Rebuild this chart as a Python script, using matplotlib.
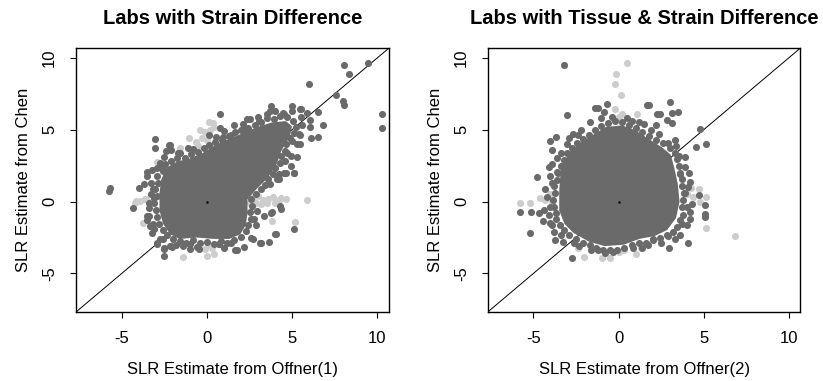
import numpy as np
import matplotlib
matplotlib.use("Agg")
import matplotlib.pyplot as plt
from matplotlib.patches import Polygon

plt.rcParams['font.family'] = ['Liberation Sans', 'DejaVu Sans']
plt.rcParams['axes.unicode_minus'] = False

DARK = '#6a6a6a'
LIGHT = '#cdcdcd'

titles = ["Labs with Strain Difference", "Labs with Tissue & Strain Difference"]
xlabels = ["SLR Estimate from Offner(1)", "SLR Estimate from Offner(2)"]
ylabel = "SLR Estimate from Chen"
ticks = [-5, 0, 5, 10]
lims = (-7.68, 10.68)

# solid centre of each cloud (outline), points overlap there
left_core = [(-2.6, 1.5), (-2.3, 2.3), (-1.7, 2.7), (-1.0, 2.9), (-0.2, 3.3), (0.6, 3.9),
             (1.4, 4.3), (2.2, 4.7), (3.0, 5.1), (3.8, 5.4), (4.6, 5.5), (4.9, 5.2),
             (4.8, 4.6), (4.3, 3.6), (4.0, 2.6), (3.5, 1.7), (2.9, 1.0), (2.3, 0.2),
             (2.3, -0.8), (2.2, -1.6), (1.9, -2.2), (1.3, -2.5), (0.4, -2.5), (-0.6, -2.4),
             (-1.6, -2.5), (-2.1, -2.2), (-2.5, -1.5), (-2.7, -0.6), (-2.7, 0.6)]
right_core = [(-3.3, 2.3), (-2.8, 3.4), (-2.2, 4.0), (-1.4, 4.6), (-0.7, 5.1), (0.2, 5.2),
              (0.9, 4.9), (1.7, 4.3), (2.5, 3.7), (3.0, 3.2), (3.2, 2.3), (3.4, 1.2),
              (3.5, 0.0), (3.3, -1.1), (2.8, -1.9), (2.1, -2.3), (1.2, -2.5), (0.3, -2.9),
              (-0.8, -3.0), (-1.7, -2.7), (-2.6, -2.1), (-3.1, -1.5), (-3.4, -0.6), (-3.4, 0.8)]

# points along the edge of the dense centre
left_edge = [(-3.0, -0.6), (-3.1, -0.1), (-2.95, 0.4), (-3.05, 0.9), (-2.85, 1.3), (-2.9, 1.8),
             (-2.6, 2.2), (-2.45, 2.6), (-2.1, 2.85), (-1.75, 3.05), (-1.3, 3.0), (-0.95, 3.3),
             (-0.55, 3.45), (-0.2, 3.7), (0.15, 3.95), (0.5, 4.15), (0.9, 4.3), (1.3, 4.55),
             (1.65, 4.85), (2.0, 4.95), (2.4, 5.1), (2.8, 5.35), (3.2, 5.5), (3.55, 5.8),
             (3.95, 5.75), (4.3, 5.95), (4.7, 5.85), (5.05, 5.6), (5.25, 5.2), (5.1, 4.8),
             (4.85, 4.45), (4.65, 4.0), (4.6, 3.55), (4.35, 3.15), (4.3, 2.7), (4.0, 2.35),
             (3.85, 1.9), (3.6, 1.55), (3.4, 1.15), (3.15, 0.85), (2.85, 0.5), (2.6, 0.15),
             (2.65, -0.3), (2.5, -0.75), (2.6, -1.2), (2.4, -1.6), (2.3, -2.05), (2.0, -2.45),
             (1.6, -2.7), (1.2, -2.85), (0.8, -2.75), (0.4, -2.95), (0.0, -2.8), (-0.4, -2.9),
             (-0.8, -2.7), (-1.2, -2.85), (-1.6, -2.75), (-2.0, -2.6), (-2.35, -2.35), (-2.6, -2.0),
             (-2.8, -1.55), (-2.9, -1.1)]
right_edge = [(-3.8, -0.4), (-3.85, 0.1), (-3.75, 0.6), (-3.8, 1.1), (-3.6, 1.5), (-3.55, 2.0),
              (-3.35, 2.45), (-3.2, 2.9), (-3.0, 3.35), (-2.75, 3.7), (-2.45, 4.05), (-2.1, 4.35),
              (-1.75, 4.6), (-1.4, 4.95), (-1.0, 5.25), (-0.6, 5.45), (-0.2, 5.6), (0.2, 5.55),
              (0.6, 5.35), (1.0, 5.15), (1.4, 4.85), (1.8, 4.55), (2.2, 4.3), (2.6, 4.05),
              (3.0, 3.75), (3.3, 3.35), (3.45, 2.95), (3.55, 2.5), (3.6, 2.0), (3.75, 1.55),
              (3.7, 1.1), (3.85, 0.6), (3.8, 0.1), (3.75, -0.4), (3.8, -0.9), (3.6, -1.3),
              (3.45, -1.75), (3.2, -2.1), (2.85, -2.35), (2.45, -2.55), (2.05, -2.7), (1.6, -2.85),
              (1.2, -2.9), (0.8, -3.05), (0.35, -3.25), (-0.1, -3.35), (-0.5, -3.4), (-0.9, -3.35),
              (-1.3, -3.2), (-1.7, -3.05), (-2.1, -2.85), (-2.5, -2.6), (-2.9, -2.35), (-3.2, -2.0),
              (-3.45, -1.6), (-3.65, -1.2), (-3.7, -0.8)]

# scattered outer points, panel 1
left_dark = [(8.01, 9.49), (9.45, 9.65), (8.35, 8.86), (5.97, 8.17), (7.58, 7.43), (7.97, 7.01),
             (8.05, 6.74), (10.27, 6.08), (10.27, 5.14), (6.79, 5.35), (6.52, 6.2), (6.03, 5.67),
             (6.03, 5.16), (6.1, 4.4), (6.54, 4.51), (5.48, 4.63), (5.46, 6.46), (4.97, 6.67),
             (5.01, 6.32), (4.51, 6.08), (3.73, 6.67), (3.69, 6.32), (2.36, 5.74), (5.3, 4.0),
             (5.3, 3.08), (4.91, 2.5), (5.1, 1.97), (4.61, 1.97), (4.22, 1.57), (5.1, -1.92),
             (4.28, -0.3), (3.97, -2.27), (3.63, -2.78), (3.14, -2.9), (2.71, -2.62), (3.83, -0.69),
             (3.34, -1.0), (1.77, -3.38), (-5.68, 0.92), (-5.74, 0.74), (-3.97, 0.92), (-3.68, 1.2),
             (-3.18, 0.85), (-3.12, 0.28), (-3.52, 1.78), (-4.36, -0.42), (-3.42, -0.42), (-3.38, -1.0),
             (-3.18, -1.58), (-2.93, -2.92), (-2.5, -3.2), (-2.53, -3.8), (-2.1, -3.08), (-1.38, -3.08),
             (-0.47, -3.31), (0.71, -2.97), (1.43, -2.85), (0.78, 6.08), (0.78, 5.11), (1.39, 4.65),
             (0.94, 4.51), (-3.03, 4.35), (-3.03, 3.7), (-2.14, 3.96), (-2.4, 3.54), (-3.52, 2.03),
             (0.51, 4.47), (-0.79, 3.65), (-2.79, 2.38), (2.16, 5.02), (2.55, 5.72), (3.05, 5.6),
             (1.96, 4.44), (3.5, 6.11), (4.46, 6.13), (5.5, 6.41), (5.89, 6.18), (5.4, 4.68),
             (5.44, 3.98), (4.91, 3.17), (5.11, 2.01), (4.52, 2.01), (4.13, 1.55), (4.32, -0.53),
             (3.73, -0.76), (2.95, -0.65), (2.75, -1.23), (4.03, -2.27), (3.16, -2.89), (2.16, -3.19),
             (1.67, -3.36), (0.69, -2.96), (-0.59, -3.19), (-0.98, -2.96), (-3.54, -1.0), (-3.34, -1.69),
             (-3.2, -2.15), (-2.75, -2.62), (-2.16, -3.08), (-2.75, 2.71), (-2.55, 2.13), (-1.57, 3.4),
             (-2.2, 3.96), (-2.1, 3.56), (-2.91, 2.36), (-2.51, -3.31), (-2.91, -2.89), (-2.06, -3.19),
             (-3.4, -0.1), (-3.3, 0.5), (-3.3, 1.3), (-3.2, 2.2), (-2.5, 3.1), (-1.7, 3.4),
             (-1.1, 3.7), (0.1, 4.6), (1.0, 4.9), (1.6, 5.3), (2.1, 5.4), (3.0, 5.9),
             (4.0, 6.3), (5.5, 5.9), (5.6, 5.3), (5.0, 4.2), (4.7, 3.4), (4.6, 2.8), (4.2, 1.9),
             (3.7, 1.2), (2.9, -1.6), (2.6, -2.5), (1.0, -3.2), (-1.0, -3.3), (-1.8, -3.0),
             (-2.6, -2.6), (-3.1, -1.9), (-3.5, -1.3)]
left_light = [(0.15, 5.51), (0.35, 5.44), (-0.14, 4.81), (-1.06, 4.42), (-0.63, 4.12), (-1.57, 3.72),
              (-2.93, 2.78), (0.43, 5.21), (-0.79, 3.63), (0.0, 4.3), (-0.3, 4.4), (-4.22, -0.07),
              (-3.63, 0.16), (-3.9, 0.05), (-3.3, 0.0), (-4.17, 0.04), (-3.58, 0.21), (-3.77, -1.46),
              (-1.41, -3.85), (0.02, -3.8), (0.39, -3.66), (0.06, -2.97), (-0.1, -3.3), (0.3, -3.2),
              (5.89, 0.09), (5.16, -1.39), (4.32, 0.23), (4.61, 0.18), (3.79, -1.35), (2.7, 0.3),
              (3.0, 0.4), (3.3, 0.1), (3.6, 0.2), (3.9, 0.3), (4.2, 0.1), (2.9, -0.1), (3.2, -0.2),
              (3.5, -0.1), (4.0, -0.1), (2.55, -0.07), (-0.4, 5.0), (0.2, 4.95), (-0.5, 3.9)]

# scattered outer points, panel 2
right_dark = [(-3.19, 9.49), (-3.05, 6.02), (-1.38, 6.53), (-1.18, 6.53), (-0.7, 6.76), (-0.85, 6.23),
              (1.66, 6.69), (1.79, 6.69), (3.03, 6.94), (2.25, 6.11), (2.44, 6.11), (3.13, 6.18),
              (3.52, 6.23), (3.13, 5.49), (2.85, 5.67), (4.79, 5.02), (5.13, 3.98), (4.56, 3.82),
              (3.38, 3.87), (3.56, 3.17), (3.91, 3.13), (4.11, 2.01), (4.17, 1.37), (4.7, 0.44),
              (4.17, -0.69), (4.17, -1.18), (5.07, -0.88), (5.07, -1.06), (5.05, -0.23), (3.72, -1.57),
              (4.07, -2.89), (2.97, -3.26), (2.93, -2.38), (2.01, -2.62), (1.75, -3.01), (0.83, -3.26),
              (-2.75, -3.89), (-3.24, -2.8), (-3.73, -2.69), (-5.17, -2.2), (-5.79, -0.72), (-5.11, -0.72),
              (-4.66, -0.81), (-4.42, -1.34), (-4.03, -1.46), (-3.77, -2.11), (-4.77, 1.71), (-4.08, 2.43),
              (-3.64, 2.06), (-4.03, 4.21), (-3.68, 4.51), (-3.93, 3.59), (-2.66, 4.72), (-3.01, 3.98),
              (-1.68, 5.53), (-2.2, 5.0), (-1.0, 5.8), (0.8, 5.6), (1.5, 5.4), (2.4, 4.7), (2.2, 5.3),
              (3.6, 1.9), (3.9, 0.6), (4.0, -0.4), (3.3, -2.6), (-0.3, -3.5), (-1.2, -3.4), (-2.3, -3.1),
              (-3.9, 1.3), (-4.2, 0.3), (-4.0, -0.4), (-3.6, 3.0), (2.9, 4.1),
              (-4.4, -0.55), (-4.1, -0.9), (-4.3, 0.9), (-4.0, 1.8), (-3.9, 2.6), (-3.4, 3.4),
              (-2.9, 4.4), (-2.4, 4.6), (-0.4, 5.9), (0.5, 5.8), (1.2, 5.5), (1.9, 5.0), (3.3, 4.3),
              (3.9, 2.4), (4.1, 1.0), (4.3, -0.2), (4.0, -1.6), (3.6, -2.3), (2.5, -2.9), (1.4, -3.2),
              (-0.8, -3.6), (-1.6, -3.4), (-2.6, -2.9), (-3.4, -2.3), (-3.9, -1.6)]
right_light = [(0.48, 9.65), (-0.15, 8.84), (-0.21, 8.19), (0.17, 7.43), (1.11, 6.11), (-0.21, 6.46),
               (0.0, 5.9), (0.2, 6.1), (6.81, -2.38), (5.11, -1.81), (5.11, 0.32), (4.7, 0.86),
               (4.25, 0.97), (4.4, 0.3), (4.8, 0.0), (4.0, 0.5), (-5.79, -0.12), (-5.17, -0.07),
               (-4.62, 0.28), (-4.03, 0.51), (-4.3, 0.1), (-3.9, 0.0), (-2.01, -3.82), (-0.95, -3.89),
               (-0.5, -3.89), (1.01, -3.61), (-2.4, -3.26), (0.0, -3.5), (0.3, -3.4), (1.3, -3.2)]

origin_pt = (0.0, 0.0)

panels = [(left_core, left_edge, left_dark, left_light),
          (right_core, right_edge, right_dark, right_light)]

fig = plt.figure(figsize=(8.23, 3.81), dpi=100)
rects = [[0.0923, 0.181, 0.3804, 0.693], [0.5926, 0.181, 0.3800, 0.693]]

for i, (core, edge, dark, light) in enumerate(panels):
    ax = fig.add_axes(rects[i])
    ax.axline((0, 0), slope=1, color='black', lw=0.7, zorder=1)
    lx, ly = zip(*light)
    ax.scatter(lx, ly, s=26, color=LIGHT, linewidths=0, zorder=2)
    ax.add_patch(Polygon(core, closed=True, facecolor=DARK, edgecolor=DARK,
                         linewidth=2, joinstyle='round', zorder=3))
    ex, ey = zip(*edge)
    ax.scatter(ex, ey, s=26, color=DARK, linewidths=0, zorder=4)
    dx, dy = zip(*dark)
    ax.scatter(dx, dy, s=26, color=DARK, linewidths=0, zorder=4)
    ax.plot(*origin_pt, 'k.', ms=1.5, zorder=5)
    ax.set_xlim(*lims)
    ax.set_ylim(*lims)
    ax.set_xticks(ticks)
    ax.set_yticks(ticks)
    ax.set_yticklabels([str(t) for t in ticks], rotation=90, va='center')
    ax.tick_params(labelsize=12, length=4.5, width=0.8, pad=9)
    for sp in ax.spines.values():
        sp.set_linewidth(1.0)
    ax.set_title(titles[i], fontsize=14.5, fontweight='bold', pad=17)
    ax.set_xlabel(xlabels[i], fontsize=12, labelpad=12)
    ax.set_ylabel(ylabel, fontsize=12, labelpad=8)

fig.savefig("out.png", dpi=100)
